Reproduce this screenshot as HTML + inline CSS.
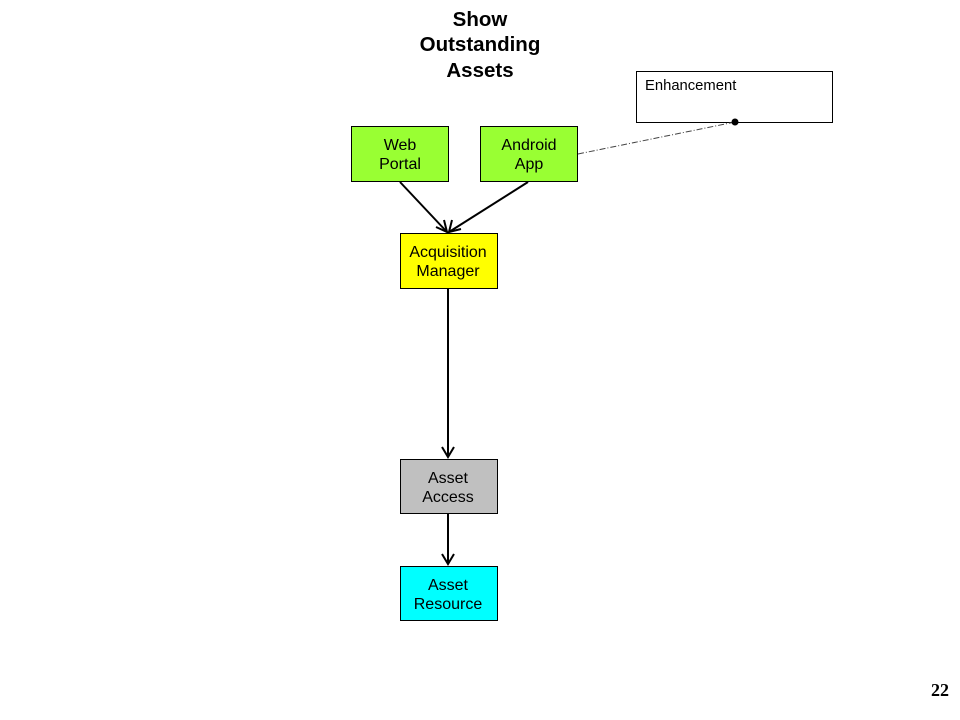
<!DOCTYPE html>
<html><head><style>body{margin:0;background:#fff}svg{display:block}</style></head>
<body>
<svg width="960" height="720" xmlns="http://www.w3.org/2000/svg" font-family="Liberation Sans, sans-serif">
<rect width="960" height="720" fill="#fff"/>
<g font-weight="bold" font-size="20.5" text-anchor="middle" fill="#000">
<text x="480" y="26">Show</text>
<text x="480" y="51">Outstanding</text>
<text x="480" y="77">Assets</text>
</g>
<rect x="636.5" y="71.5" width="196" height="51" fill="#fff" stroke="#000"/>
<text x="645" y="90" font-size="14.8">Enhancement</text>
<line x1="578" y1="154" x2="735" y2="122" stroke="#444" stroke-dasharray="6,2,1,2"/>
<circle cx="735" cy="122" r="3.5" fill="#000"/>
<g stroke="#000" stroke-width="1">
<rect x="351.5" y="126.5" width="97" height="55" fill="#99ff33"/>
<rect x="480.5" y="126.5" width="97" height="55" fill="#99ff33"/>
<rect x="400.5" y="233.5" width="97" height="55" fill="#ffff00"/>
<rect x="400.5" y="459.5" width="97" height="54" fill="#c0c0c0"/>
<rect x="400.5" y="566.5" width="97" height="54" fill="#00ffff"/>
</g>
<g stroke="#000" stroke-width="2" fill="none">
<line x1="400" y1="182" x2="447" y2="232"/>
<line x1="528" y1="182" x2="449" y2="232"/>
<line x1="448" y1="289" x2="448" y2="457"/>
<line x1="448" y1="514" x2="448" y2="564"/>
<path d="M436 227 L447 232 L444 220"/>
<path d="M452 220 L449 232 L461 229"/>
<path d="M442 447 L448 457 L454 447"/>
<path d="M442 554 L448 564 L454 554"/>
</g>
<g font-size="16" text-anchor="middle" fill="#000">
<text x="400" y="150">Web</text><text x="400" y="169">Portal</text>
<text x="529" y="150">Android</text><text x="529" y="169">App</text>
<text x="448" y="257">Acquisition</text><text x="448" y="276">Manager</text>
<text x="448" y="483">Asset</text><text x="448" y="502">Access</text>
<text x="448" y="590">Asset</text><text x="448" y="609">Resource</text>
</g>
<text x="940" y="696" font-family="Liberation Serif, serif" font-weight="bold" font-size="18" text-anchor="middle">22</text>
</svg>
</body></html>
